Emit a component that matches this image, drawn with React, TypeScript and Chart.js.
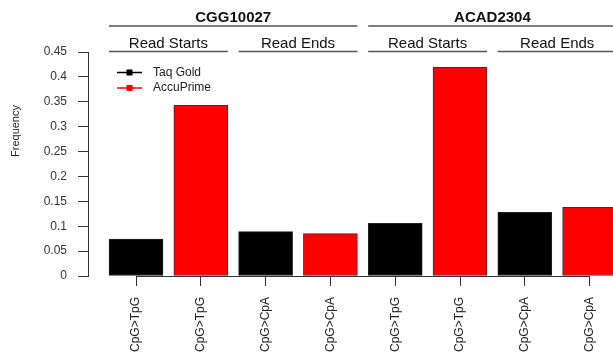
import React, { useEffect, useRef } from "react";
import { Chart, registerables } from "chart.js";

Chart.register(...registerables);

// ---- data ----
const categories = ["CpG>TpG", "CpG>TpG", "CpG>CpA", "CpG>CpA", "CpG>TpG", "CpG>TpG", "CpG>CpA", "CpG>CpA"];
const taqGold = [0.074, null, 0.089, null, 0.106, null, 0.128, null];
const accuPrime = [null, 0.343, null, 0.085, null, 0.419, null, 0.138];
const seriesNames = ["Taq Gold", "AccuPrime"];
const samples = ["CGG10027", "ACAD2304"];
const readTypes = ["Read Starts", "Read Ends", "Read Starts", "Read Ends"];
const yTicks = [0, 0.05, 0.1, 0.15, 0.2, 0.25, 0.3, 0.35, 0.4, 0.45];
const yAxisTitle = "Frequency";

const FONT = "'Liberation Sans', Arial, Helvetica, sans-serif";
const BAR = 54;
const W = 680;
const H = 354;

const toPoints = (arr: (number | null)[]) =>
  arr.map((v, i) => ({ x: i, y: v })).filter((p) => p.y !== null);

const annotPlugin = {
  id: "annot",
  afterDraw(chart: any) {
    const ctx = chart.ctx as CanvasRenderingContext2D;
    const xs = chart.scales.x;
    const ys = chart.scales.y;
    const area = chart.chartArea;
    const half = BAR / 2;
    ctx.save();

    // baseline from first to last tick
    const y0 = Math.round(ys.getPixelForValue(0)) + 0.5;
    ctx.strokeStyle = "#333";
    ctx.lineWidth = 1;
    ctx.beginPath();
    ctx.moveTo(xs.getPixelForValue(0), y0);
    ctx.lineTo(xs.getPixelForValue(categories.length - 1), y0);
    ctx.stroke();

    // group headers
    const drawGroup = (labels: string[], lineY: number, textY: number, font: string) => {
      const per = categories.length / labels.length;
      labels.forEach((lab, k) => {
        const l = xs.getPixelForValue(k * per) - half;
        const r = xs.getPixelForValue((k + 1) * per - 1) + half;
        ctx.strokeStyle = "#555";
        ctx.lineWidth = 1.4;
        ctx.beginPath();
        ctx.moveTo(l, lineY);
        ctx.lineTo(r, lineY);
        ctx.stroke();
        ctx.fillStyle = "#111";
        ctx.font = font;
        ctx.textAlign = "center";
        ctx.textBaseline = "alphabetic";
        ctx.fillText(lab, (l + r) / 2, textY);
      });
    };
    drawGroup(samples, area.top - 26, area.top - 30, `bold 15px ${FONT}`);
    drawGroup(readTypes, area.top - 0.5, area.top - 4.5, `15px ${FONT}`);

    // legend
    chart.data.datasets.forEach((ds: any, i: number) => {
      const ly = area.top + 20.5 + i * 15.5;
      const lx = area.left + 29;
      ctx.strokeStyle = ds.backgroundColor;
      ctx.lineWidth = 1.5;
      ctx.beginPath();
      ctx.moveTo(lx, ly);
      ctx.lineTo(lx + 25, ly);
      ctx.stroke();
      ctx.fillStyle = ds.backgroundColor;
      ctx.fillRect(lx + 12.5 - 3, ly - 3, 6, 6);
      ctx.fillStyle = "#222";
      ctx.font = `12px ${FONT}`;
      ctx.textAlign = "left";
      ctx.textBaseline = "middle";
      ctx.fillText(ds.label, lx + 36, ly);
    });

    // y axis title
    ctx.translate(16, area.top + 79);
    ctx.rotate(-Math.PI / 2);
    ctx.fillStyle = "#222";
    ctx.font = `11px ${FONT}`;
    ctx.textAlign = "center";
    ctx.textBaseline = "middle";
    ctx.fillText(yAxisTitle, 0, 0);

    ctx.restore();
  },
};

export default function App() {
  const ref = useRef<HTMLCanvasElement | null>(null);

  useEffect(() => {
    if (!ref.current) return;
    Chart.defaults.font.family = FONT;
    const chart = new Chart(ref.current, {
      type: "bar",
      data: {
        datasets: [
          {
            label: seriesNames[0],
            data: toPoints(taqGold) as any,
            backgroundColor: "#000000",
            borderColor: "#222222",
            borderWidth: 1,
            borderSkipped: false,
            barThickness: BAR,
            grouped: false,
          },
          {
            label: seriesNames[1],
            data: toPoints(accuPrime) as any,
            backgroundColor: "#ff0000",
            borderColor: "#333333",
            borderWidth: 1,
            borderSkipped: false,
            barThickness: BAR,
            grouped: false,
          },
        ],
      },
      options: {
        responsive: false,
        animation: false,
        devicePixelRatio: 1,
        layout: { padding: { top: 52, left: 0, right: 0, bottom: 0 } },
        plugins: { legend: { display: false }, tooltip: { enabled: false } },
        scales: {
          x: {
            type: "linear",
            offset: false,
            min: -0.741,
            max: 8.395,
            grid: { offset: false, drawOnChartArea: false, drawTicks: true, tickLength: 10, tickColor: "#333", lineWidth: 1 },
            border: { display: false },
            ticks: {
              autoSkip: false,
              maxRotation: 90,
              minRotation: 90,
              padding: 11,
              color: "#222",
              font: { size: 12, family: FONT },
              callback: (v: any) => categories[v as number] ?? "",
            },
            afterBuildTicks: (axis: any) => {
              axis.ticks = categories.map((_, i) => ({ value: i }));
            },
            afterFit: (s: any) => {
              s.height = 78;
              s.paddingLeft = 0;
              s.paddingRight = 0;
            },
          },
          y: {
            min: 0,
            max: 0.45,
            grid: { drawOnChartArea: false, drawTicks: true, tickLength: 10, tickColor: "#333", lineWidth: 1 },
            border: { display: true, color: "#333", width: 1 },
            ticks: {
              padding: 11,
              color: "#333",
              font: { size: 12, family: FONT },
              callback: (v: any) => String(v),
            },
            afterBuildTicks: (axis: any) => {
              axis.ticks = yTicks.map((v) => ({ value: v }));
            },
            afterFit: (s: any) => {
              s.width = 88;
            },
          },
        },
      } as any,
      plugins: [annotPlugin],
    });
    return () => chart.destroy();
  }, []);

  return (
    <div style={{ position: "fixed", left: 0, top: 0, width: W, height: H, background: "#fff" }}>
      <canvas ref={ref} width={W} height={H} style={{ width: W, height: H, display: "block" }} />
    </div>
  );
}
